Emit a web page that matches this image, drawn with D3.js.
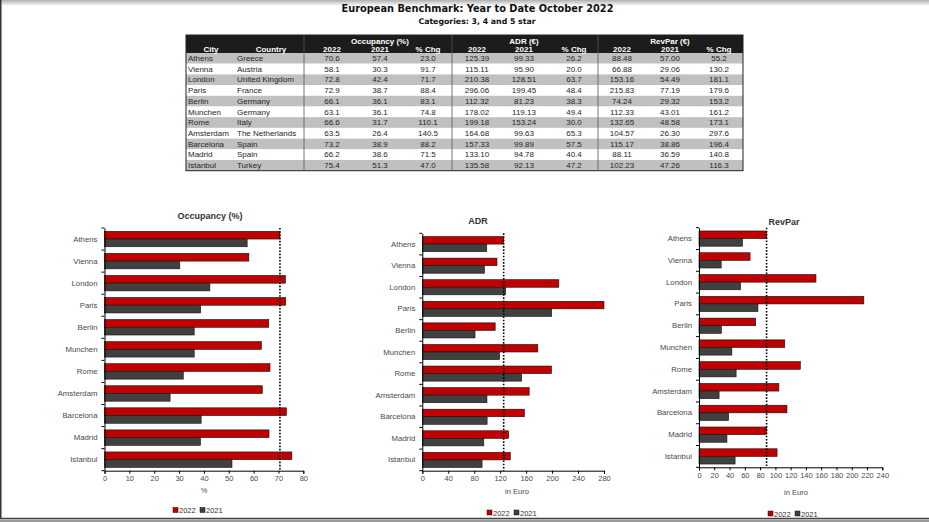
<!DOCTYPE html>
<html>
<head>
<meta charset="utf-8">
<script src="https://cdn.jsdelivr.net/npm/d3@7"></script>
<style>
	body { margin: 0; background: #fff; }
	svg { display: block; font-family: "Liberation Sans", Arial, sans-serif; }
</style>
</head>
<body>
<script>
// DATA
var cities = ["Athens", "Vienna", "London", "Paris", "Berlin", "Munchen", "Rome", "Amsterdam", "Barcelona", "Madrid", "Istanbul"]
var countries = ["Greece", "Austria", "United Kingdom", "France", "Germany", "Germany", "Italy", "The Netherlands", "Spain", "Spain", "Turkey"]

var occ2022 = [70.6, 58.1, 72.8, 72.9, 66.1, 63.1, 66.6, 63.5, 73.2, 66.2, 75.4]
var occ2021 = [57.4, 30.3, 42.4, 38.7, 36.1, 36.1, 31.7, 26.4, 38.9, 38.6, 51.3]
var occChg = [23.0, 91.7, 71.7, 88.4, 83.1, 74.8, 110.1, 140.5, 88.2, 71.5, 47.0]

var adr2022 = [125.39, 115.11, 210.38, 296.06, 112.32, 178.02, 199.18, 164.68, 157.33, 133.10, 135.58]
var adr2021 = [99.33, 95.90, 128.51, 199.45, 81.23, 119.13, 153.24, 99.63, 99.89, 94.78, 92.13]
var adrChg = [26.2, 20.0, 63.7, 48.4, 38.3, 49.4, 30.0, 65.3, 57.5, 40.4, 47.2]

var rev2022 = [88.48, 66.88, 153.16, 215.83, 74.24, 112.33, 132.65, 104.57, 115.17, 88.11, 102.23]
var rev2021 = [57.00, 29.06, 54.49, 77.19, 29.32, 43.01, 48.58, 26.30, 38.86, 36.59, 47.26]
var revChg = [55.2, 130.2, 181.1, 179.6, 153.2, 161.2, 173.1, 297.6, 196.4, 140.8, 116.3]

var years = ["2022", "2021"]
var occTicks = [0, 10, 20, 30, 40, 50, 60, 70, 80]
var adrTicks = [0, 40, 80, 120, 160, 200, 240, 280]
var revTicks = [0, 20, 40, 60, 80, 100, 120, 140, 160, 180, 200, 220, 240]

var red = "#c00000", grey = "#404040"

var svg = d3.select("body").append("svg")
	.attr("width", 929)
	.attr("height", 522)

// frame: shadow on top
var grad = svg.append("defs").append("linearGradient")
	.attr("id", "topShade").attr("x1", 0).attr("y1", 0).attr("x2", 0).attr("y2", 1)
grad.append("stop").attr("offset", "0%").attr("stop-color", "#b0b0b0")
grad.append("stop").attr("offset", "100%").attr("stop-color", "#fff")
svg.append("rect").attr("x", 0).attr("y", 0).attr("width", 929).attr("height", 6).attr("fill", "url(#topShade)")

// titles
svg.append("text")
	.attr("x", 477.5).attr("y", 12)
	.attr("text-anchor", "middle")
	.style("font-family", "'DejaVu Sans', Verdana, sans-serif")
	.style("font-weight", "bold").style("font-size", "9.8px").attr("fill", "#111")
	.text("European Benchmark: Year to Date October 2022")
svg.append("text")
	.attr("x", 477).attr("y", 23.5)
	.attr("text-anchor", "middle")
	.style("font-family", "'DejaVu Sans', Verdana, sans-serif")
	.style("font-weight", "bold").style("font-size", "7.8px").attr("fill", "#111")
	.text("Categories: 3, 4 and 5 star")

// TABLE
var tab = {left: 186, right: 743, top: 35, head: 53, row: 10.7}
var groups = [
	{name: "Occupancy (%)", cols: [occ2022, occ2021, occChg], x: [332, 380, 428], dec: [1, 1, 1]},
	{name: "ADR (€)", cols: [adr2022, adr2021, adrChg], x: [477, 524, 574], dec: [2, 2, 1]},
	{name: "RevPar (€)", cols: [rev2022, rev2021, revChg], x: [622, 670, 719], dec: [2, 2, 1]}
]
var sep = [304, 452, 598]
var g = svg.append("g").style("font-size", "8px")

g.append("rect")
	.attr("x", tab.left).attr("y", tab.top)
	.attr("width", tab.right - tab.left).attr("height", tab.head - tab.top)
	.attr("fill", "#1c1c1c")

g.selectAll(".rowbg").data(cities).enter().append("rect")
	.attr("x", tab.left).attr("y", function(d, i) { return tab.head + i * tab.row })
	.attr("width", tab.right - tab.left).attr("height", tab.row)
	.attr("fill", function(d, i) { return i % 2 == 0 ? "#c0c0c0" : "#fff" })

g.append("rect")
	.attr("x", tab.left).attr("y", tab.top)
	.attr("width", tab.right - tab.left).attr("height", tab.head - tab.top + cities.length * tab.row)
	.attr("fill", "none").attr("stroke", "#222").attr("stroke-width", 1)

sep.forEach(function(s) {
	g.append("line").attr("x1", s).attr("x2", s)
		.attr("y1", tab.top).attr("y2", tab.head + cities.length * tab.row)
		.attr("stroke", "#555").attr("stroke-width", 0.8)
})

// header text
var hd = g.append("g").attr("fill", "#fff").style("font-weight", "bold")
hd.append("text").attr("x", 211).attr("y", 51.5).attr("text-anchor", "middle").text("City")
hd.append("text").attr("x", 271).attr("y", 51.5).attr("text-anchor", "middle").text("Country")
groups.forEach(function(gr) {
	hd.append("text").attr("x", gr.x[1]).attr("y", 43.5).attr("text-anchor", "middle").text(gr.name)
	hd.selectAll(null).data(["2022", "2021", "% Chg"]).enter().append("text")
		.attr("x", function(d, i) { return gr.x[i] })
		.attr("y", 51.5).attr("text-anchor", "middle").text(function(d) { return d })
})

// body text
var bd = g.append("g").attr("fill", "#262626")
bd.selectAll(".city").data(cities).enter().append("text")
	.attr("x", 188).attr("y", function(d, i) { return tab.head + i * tab.row + 8 })
	.text(function(d) { return d })
bd.selectAll(".country").data(countries).enter().append("text")
	.attr("x", 237).attr("y", function(d, i) { return tab.head + i * tab.row + 8 })
	.text(function(d) { return d })
groups.forEach(function(gr) {
	gr.cols.forEach(function(col, c) {
		bd.selectAll(null).data(col).enter().append("text")
			.attr("x", gr.x[c]).attr("y", function(d, i) { return tab.head + i * tab.row + 8 })
			.attr("text-anchor", "middle")
			.text(function(d) { return d.toFixed(gr.dec[c]) })
	})
})

// CHARTS
var charts = [
	{title: "Occupancy (%)", a: occ2022, b: occ2021, ticks: occTicks, max: 80,
		x0: 104.5, x1: 303.3, top: 228, bottom: 470.7, titleX: 210, titleY: 218.5,
		unit: "%", unitX: 204, unitY: 493, legX: 199, legY: 513},
	{title: "ADR", a: adr2022, b: adr2021, ticks: adrTicks, max: 280,
		x0: 422.3, x1: 604, top: 233.3, bottom: 470.7, titleX: 478, titleY: 223.5,
		unit: "in Euro", unitX: 517, unitY: 494, legX: 513, legY: 515.5},
	{title: "RevPar", a: rev2022, b: rev2021, ticks: revTicks, max: 240,
		x0: 699, x1: 882.3, top: 227.7, bottom: 467.3, titleX: 784, titleY: 225,
		unit: "in Euro", unitX: 796, unitY: 495, legX: 794, legY: 516.5}
]

charts.forEach(drawChart)

function drawChart(c) {
	var cg = svg.append("g")

	var x = d3.scaleLinear().domain([0, c.max]).range([c.x0, c.x1]).clamp(true)
	var y = d3.scaleBand().domain(cities).range([c.top, c.bottom]).paddingInner(0.3).paddingOuter(0.15)
	var y2 = d3.scaleBand().domain(years).range([0, y.bandwidth()])

	cg.append("text")
		.attr("x", c.titleX).attr("y", c.titleY)
		.attr("text-anchor", "middle")
		.style("font-weight", "bold").style("font-size", "9px").attr("fill", "#333")
		.text(c.title)

	var rows = cg.selectAll(".row").data(cities).enter().append("g")
		.attr("transform", function(d) { return "translate(0," + y(d) + ")" })

	rows.append("rect")
		.attr("x", x(0)).attr("y", y2("2022"))
		.attr("width", function(d, i) { return x(c.a[i]) - x(0) })
		.attr("height", y2.bandwidth())
		.attr("fill", red).attr("stroke", "#111").attr("stroke-width", 0.6)
	rows.append("rect")
		.attr("x", x(0)).attr("y", y2("2021"))
		.attr("width", function(d, i) { return x(c.b[i]) - x(0) })
		.attr("height", y2.bandwidth())
		.attr("fill", grey).attr("stroke", "#111").attr("stroke-width", 0.6)

	// x axis
	var xa = cg.append("g")
		.attr("transform", "translate(0," + c.bottom + ")")
		.call(d3.axisBottom(x).tickValues(c.ticks).tickSize(3).tickPadding(2))
	xa.select(".domain").attr("stroke", "#000")
	xa.selectAll("line").attr("stroke", "#000")
	xa.selectAll("text").style("fill", "#4a4a4a").style("font-size", "7.5px").style("font-family", "'Liberation Sans', Arial, sans-serif")

	// y axis
	var ya = cg.append("g")
		.attr("transform", "translate(" + c.x0 + ",0)")
		.call(d3.axisLeft(y).tickSize(0).tickPadding(7).tickSizeOuter(0))
	ya.select(".domain").attr("stroke", "#000")
	ya.selectAll("text").style("fill", "#4a4a4a").style("font-size", "7.8px").style("font-family", "'Liberation Sans', Arial, sans-serif")

	var step = y.step()
	ya.selectAll(".bound").data(d3.range(cities.length + 1)).enter().append("line")
		.attr("x1", -3).attr("x2", 0)
		.attr("y1", function(d) { return c.top + d * step })
		.attr("y2", function(d) { return c.top + d * step })
		.attr("stroke", "#000")

	// reference line at Athens 2022
	cg.append("line")
		.attr("x1", x(c.a[0])).attr("x2", x(c.a[0]))
		.attr("y1", c.top).attr("y2", c.bottom)
		.attr("stroke", "#000").attr("stroke-width", 1.6)
		.attr("stroke-dasharray", "1.6,1.6")

	cg.append("text")
		.attr("x", c.unitX).attr("y", c.unitY)
		.attr("text-anchor", "middle")
		.style("font-size", "7.5px").style("fill", "#4a4a4a")
		.text(c.unit)

	// legend
	var leg = cg.append("g").attr("transform", "translate(" + (c.legX - 26) + "," + c.legY + ")")
	years.forEach(function(yr, i) {
		var it = leg.append("g").attr("transform", "translate(" + (i * 27) + ",0)")
		it.append("rect").attr("x", 0).attr("y", -5.5).attr("width", 5).attr("height", 5)
			.attr("fill", i == 0 ? red : grey).attr("stroke", "#111").attr("stroke-width", 0.5)
		it.append("text").attr("x", 6).attr("y", 0)
			.style("font-size", "7.5px").style("fill", "#333").text(yr)
	})
}

// frame lines
svg.append("line").attr("x1", 0.75).attr("x2", 0.75).attr("y1", 0).attr("y2", 519)
	.attr("stroke", "#333").attr("stroke-width", 1.5)
svg.append("line").attr("x1", 0).attr("x2", 929).attr("y1", 518.5).attr("y2", 518.5)
	.attr("stroke", "#444").attr("stroke-width", 1.5)
svg.append("rect").attr("x", 0).attr("y", 519.5).attr("width", 929).attr("height", 2.5).attr("fill", "#9a9a9a")
</script>
</body>
</html>
